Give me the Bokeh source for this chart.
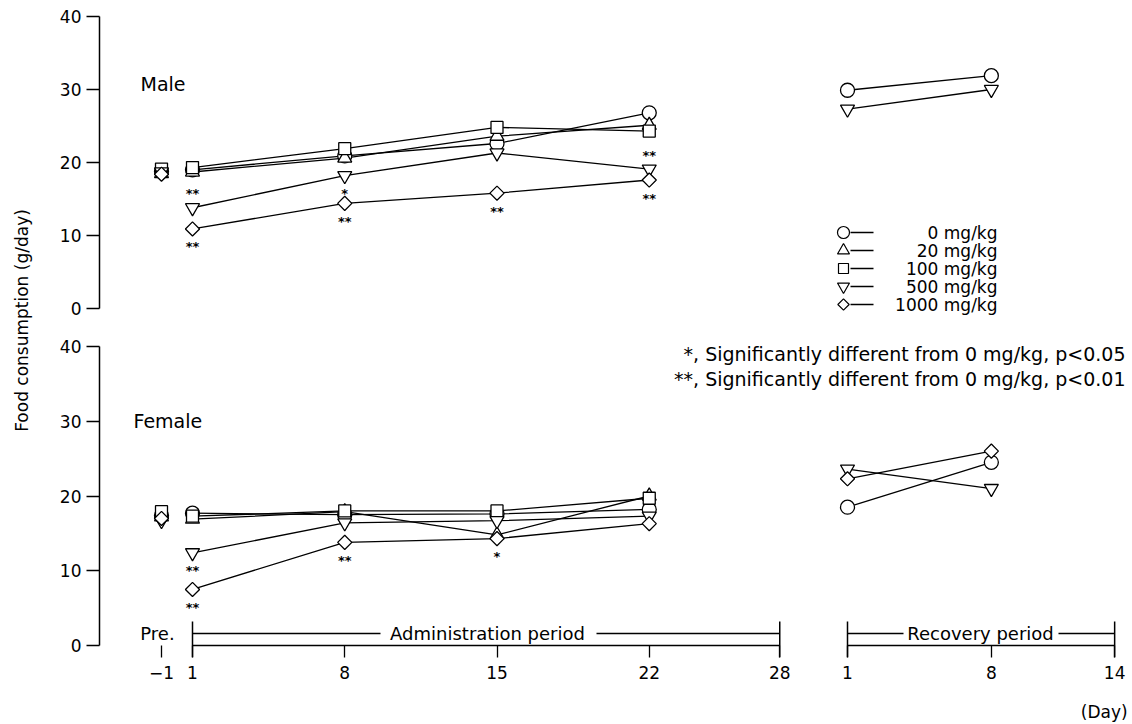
import math
from bokeh.plotting import figure
from bokeh.layouts import row, column
from bokeh.models import Range1d, FixedTicker
from bokeh.core.properties import value
from bokeh.embed import file_html
from bokeh.resources import INLINE

# ------------------------------------------------------------------ data
GROUP_LABELS = ["0 mg/kg", "20 mg/kg", "100 mg/kg", "500 mg/kg", "1000 mg/kg"]
ADMIN_DAYS = [1, 8, 15, 22]
RECOVERY_DAYS = [1, 8]
Y_TICKS = [0, 10, 20, 30, 40]
ADMIN_TICKS = [1, 8, 15, 22, 28]
ADMIN_TICK_LABELS = ["1", "8", "15", "22", "28"]
REC_TICKS = [1, 8, 14]
REC_TICK_LABELS = ["1", "8", "14"]
PRE_TICK_LABEL = "\u22121"

# groups order: 0, 20, 100, 500, 1000 mg/kg
MALE_PRE = [18.8, 18.5, 19.1, 18.7, 18.4]
MALE_0 = [19.0, 20.9, 22.6, 26.8]
MALE_20 = [18.7, 20.6, 23.6, 25.1]
MALE_100 = [19.3, 21.9, 24.8, 24.3]
MALE_500 = [13.8, 18.2, 21.3, 19.1]
MALE_1000 = [10.9, 14.4, 15.8, 17.6]
MALE_REC_0 = [29.9, 31.9]
MALE_REC_500 = [27.3, 30.0]

FEMALE_PRE = [17.4, 17.2, 17.9, 16.7, 17.0]
FEMALE_0 = [17.7, 17.5, 17.6, 18.2]
FEMALE_20 = [16.9, 17.9, 14.8, 20.0]
FEMALE_100 = [17.3, 18.0, 18.0, 19.7]
FEMALE_500 = [12.4, 16.4, 16.7, 17.3]
FEMALE_1000 = [7.5, 13.8, 14.3, 16.3]
FEMALE_REC_0 = [18.5, 24.5]
FEMALE_REC_500 = [23.6, 21.0]
FEMALE_REC_1000 = [22.3, 26.0]

MALE_SIG_DAY = [1, 1, 8, 8, 15, 22, 22]
MALE_SIG_GROUP = [3, 4, 3, 4, 4, 3, 4]
MALE_SIG_TEXT = ["**", "**", "*", "**", "**", "**", "**"]
MALE_SIG_SIDE = [1, -1, -1, -1, -1, 1, -1]
FEMALE_SIG_DAY = [1, 1, 8, 15]
FEMALE_SIG_GROUP = [3, 4, 4, 4]
FEMALE_SIG_TEXT = ["**", "**", "**", "*"]
FEMALE_SIG_SIDE = [-1, -1, -1, -1]

FOOTNOTES = ["*, Significantly different from 0 mg/kg, p<0.05",
             "**, Significantly different from 0 mg/kg, p<0.01"]

# ------------------------------------------------------------------ style / layout
FONT = "DejaVu Sans"
MARKERS = ["circle", "triangle", "square", "inverted_triangle", "square"]
ANGLES = [0, 0, 0, 0, math.pi / 4]
SIZES = [14, 14, 12, 14, 10]

TOTAL_W = 1130
LABEL_W = 40
MAIN_W = TOTAL_W - LABEL_W
FRAME_L = 99
FRAME_R = TOTAL_W
X_DAY1_PX = 192.0
PX_PER_DAY = 21.75
X_PRE_PX = 161.0
REC1_PX = 847.0
REC_PX_PER_DAY = 20.55

x_start = 1 - (X_DAY1_PX - FRAME_L) / PX_PER_DAY
x_end = 1 + (FRAME_R - X_DAY1_PX) / PX_PER_DAY
rec_start = 1 - (REC1_PX - FRAME_L) / REC_PX_PER_DAY
rec_end = 1 + (FRAME_R - REC1_PX) / REC_PX_PER_DAY


def px_to_x(px):
    return 1 + (px - X_DAY1_PX) / PX_PER_DAY


def rec_to_x(r):
    return px_to_x(REC1_PX + (r - 1) * REC_PX_PER_DAY)


PRE_X = px_to_x(X_PRE_PX)

# male panel vertical geometry (page px)
M_FIG_TOP, M_TOP, M_ZERO, M_FRAME_BOTTOM, M_FIG_BOTTOM = 0, 16, 308, 318, 320
m_scale = (M_ZERO - M_TOP) / 40.0
m_ylow = -(M_FRAME_BOTTOM - M_ZERO) / m_scale


def m_py(py):
    return (M_ZERO - py) / m_scale


# female panel vertical geometry (page px)
F_FIG_TOP, F_FRAME_TOP, F_40, F_ZERO, F_FRAME_BOTTOM, F_FIG_BOTTOM = 320, 328, 346, 645, 657, 700
f_scale = (F_ZERO - F_40) / 40.0
f_yhigh = 40 + (F_40 - F_FRAME_TOP) / f_scale
f_ylow = -(F_FRAME_BOTTOM - F_ZERO) / f_scale


def f_py(py):
    return (F_ZERO - py) / f_scale


STRIP_TOP, STRIP_BOTTOM = 700, 722

xr = Range1d(x_start, x_end)
rr = Range1d(rec_start, rec_end)


def make_fig(fig_top, frame_top, frame_bottom, fig_bottom, ylow, yhigh, show_x):
    p = figure(width=MAIN_W, height=fig_bottom - fig_top, x_range=xr,
               y_range=Range1d(ylow, yhigh), title=None,
               output_backend="svg", toolbar_location=None,
               x_axis_location="below" if show_x else None,
               min_border_left=FRAME_L - LABEL_W, min_border_right=0,
               min_border_top=frame_top - fig_top,
               min_border_bottom=fig_bottom - frame_bottom)
    p.extra_x_ranges = {"rec": rr}
    p.grid.visible = False
    p.outline_line_color = None
    p.background_fill_color = "white"
    p.border_fill_color = "white"
    ay = p.yaxis[0]
    ay.bounds = (0, 40)
    ay.ticker = FixedTicker(ticks=Y_TICKS)
    ay.major_tick_out = 13
    ay.major_tick_in = 0
    ay.minor_tick_line_color = None
    ay.axis_line_width = 1.5
    ay.major_tick_line_width = 1.3
    ay.axis_line_color = "black"
    ay.major_tick_line_color = "black"
    ay.major_label_text_font = FONT
    ay.major_label_text_font_size = "17px"
    ay.major_label_text_color = "black"
    ay.major_label_standoff = 5
    return p


def draw_admin(p, pre, series):
    for g in range(5):
        p.line(ADMIN_DAYS, series[g], line_color="black", line_width=1.3)
    for g in range(5):
        p.scatter([PRE_X] + ADMIN_DAYS, [pre[g]] + series[g], marker=MARKERS[g],
                  angle=ANGLES[g], size=SIZES[g], fill_color="white",
                  line_color="black", line_width=1.3)


def draw_rec(p, groups, values):
    for vals in values:
        p.line(RECOVERY_DAYS, vals, x_range_name="rec", line_color="black", line_width=1.3)
    for g, vals in zip(groups, values):
        p.scatter(RECOVERY_DAYS, vals, x_range_name="rec", marker=MARKERS[g],
                  angle=ANGLES[g], size=SIZES[g], fill_color="white",
                  line_color="black", line_width=1.3)


def draw_sig(p, series, days, groups, texts, sides, scale):
    ys = []
    for d, g, s in zip(days, groups, sides):
        v = series[g][ADMIN_DAYS.index(d)]
        ys.append(v + (14 if s > 0 else -18) / scale)
    p.text(days, ys, text=texts, text_align="center", text_baseline="middle",
           text_font=value(FONT), text_font_size="13px", text_font_style="bold",
           text_color="black")


# ------------------------------------------------------------------ male
pm = make_fig(M_FIG_TOP, M_TOP, M_FRAME_BOTTOM, M_FIG_BOTTOM, m_ylow, 40, False)
male_series = [MALE_0, MALE_20, MALE_100, MALE_500, MALE_1000]
draw_admin(pm, MALE_PRE, male_series)
draw_rec(pm, [0, 3], [MALE_REC_0, MALE_REC_500])
draw_sig(pm, male_series, MALE_SIG_DAY, MALE_SIG_GROUP, MALE_SIG_TEXT, MALE_SIG_SIDE, m_scale)
pm.text([px_to_x(140)], [m_py(83)], text=["Male"], text_align="left", text_baseline="middle",
        text_font=value(FONT), text_font_size="19px", text_color="black")

# legend (manual, like the original)
LEG_ROWS_PY = [232, 250, 268, 286, 304]
for g in range(5):
    yy = m_py(LEG_ROWS_PY[g])
    pm.segment(x0=[px_to_x(850)], y0=[yy], x1=[px_to_x(873)], y1=[yy], line_color="black", line_width=1.3)
    pm.scatter([px_to_x(843)], [yy], marker=MARKERS[g], angle=ANGLES[g], size=SIZES[g] - 2,
               fill_color="white", line_color="black", line_width=1.2)
pm.text([px_to_x(997)] * 5, [m_py(v) for v in LEG_ROWS_PY], text=GROUP_LABELS,
        text_align="right", text_baseline="middle", text_font=value(FONT),
        text_font_size="17px", text_color="black")

# ------------------------------------------------------------------ female
pf = make_fig(F_FIG_TOP, F_FRAME_TOP, F_FRAME_BOTTOM, F_FIG_BOTTOM, f_ylow, f_yhigh, True)
female_series = [FEMALE_0, FEMALE_20, FEMALE_100, FEMALE_500, FEMALE_1000]
draw_admin(pf, FEMALE_PRE, female_series)
draw_rec(pf, [0, 3, 4], [FEMALE_REC_0, FEMALE_REC_500, FEMALE_REC_1000])
draw_sig(pf, female_series, FEMALE_SIG_DAY, FEMALE_SIG_GROUP, FEMALE_SIG_TEXT, FEMALE_SIG_SIDE, f_scale)
pf.text([px_to_x(133)], [f_py(420)], text=["Female"], text_align="left", text_baseline="middle",
        text_font=value(FONT), text_font_size="19px", text_color="black")
pf.text([px_to_x(1125)] * 2, [f_py(353), f_py(378)], text=FOOTNOTES, text_align="right",
        text_baseline="middle", text_font=value(FONT), text_font_size="19px", text_color="black")

# x axis (broken: Pre. / Administration period / Recovery period)
xt_pos = [PRE_X] + ADMIN_TICKS + [rec_to_x(r) for r in REC_TICKS]
xt_pos = [round(v, 4) for v in xt_pos]
xt_lab = [PRE_TICK_LABEL] + ADMIN_TICK_LABELS + REC_TICK_LABELS
ax = pf.xaxis[0]
ax.ticker = FixedTicker(ticks=xt_pos)
ax.major_label_overrides = {v: l for v, l in zip(xt_pos, xt_lab)}
ax.axis_line_color = None
ax.major_tick_in = F_FRAME_BOTTOM - F_ZERO
ax.major_tick_out = 0
ax.major_tick_line_width = 1.3
ax.major_tick_line_color = "black"
ax.minor_tick_line_color = None
ax.major_label_text_font = FONT
ax.major_label_text_font_size = "17px"
ax.major_label_text_color = "black"
ax.major_label_standoff = 8

a0, a1 = ADMIN_TICKS[0], ADMIN_TICKS[-1]
r0, r1 = rec_to_x(REC_TICKS[0]), rec_to_x(REC_TICKS[-1])
BRACKET_Y = f_py(633)
BAR_TOP = f_py(621)
pf.segment(x0=[a0, r0], y0=[0, 0], x1=[a1, r1], y1=[0, 0], line_color="black", line_width=1.5)
pf.segment(x0=[a0, a1, r0, r1], y0=[BAR_TOP] * 4, x1=[a0, a1, r0, r1], y1=[f_ylow] * 4,
           line_color="black", line_width=1.5)
pf.segment(x0=[a0, px_to_x(596), r0, px_to_x(1058)], y0=[BRACKET_Y] * 4,
           x1=[px_to_x(380), a1, px_to_x(903), r1], y1=[BRACKET_Y] * 4,
           line_color="black", line_width=1.3)
pf.text([px_to_x(487), px_to_x(980), px_to_x(157)], [BRACKET_Y] * 3,
        text=["Administration period", "Recovery period", "Pre."],
        text_align="center", text_baseline="middle", text_font=value(FONT),
        text_font_size="18px", text_color="black")

# ------------------------------------------------------------------ "(Day)" strip
ps = figure(width=MAIN_W, height=STRIP_BOTTOM - STRIP_TOP, x_range=Range1d(LABEL_W, TOTAL_W),
            y_range=Range1d(-STRIP_BOTTOM, -STRIP_TOP), title=None, output_backend="svg",
            toolbar_location=None, x_axis_location=None, y_axis_location=None,
            min_border_left=0, min_border_right=0, min_border_top=0, min_border_bottom=0)
ps.grid.visible = False
ps.outline_line_color = None
ps.text([1127], [-711], text=["(Day)"], text_align="right", text_baseline="middle",
        text_font=value(FONT), text_font_size="17px", text_color="black")

# ------------------------------------------------------------------ y label strip
pl = figure(width=LABEL_W, height=STRIP_BOTTOM, x_range=Range1d(0, LABEL_W),
            y_range=Range1d(-STRIP_BOTTOM, 0), title=None, output_backend="svg",
            toolbar_location=None, x_axis_location=None, y_axis_location=None,
            min_border_left=0, min_border_right=0, min_border_top=0, min_border_bottom=0)
pl.grid.visible = False
pl.outline_line_color = None
pl.text([21], [-320], text=["Food consumption (g/day)"], angle=math.pi / 2,
        text_align="center", text_baseline="middle", text_font=value(FONT),
        text_font_size="17px", text_color="black")

layout = row(pl, column(pm, pf, ps, spacing=0), spacing=0)
open("out.html", "w").write(file_html(layout, INLINE))
